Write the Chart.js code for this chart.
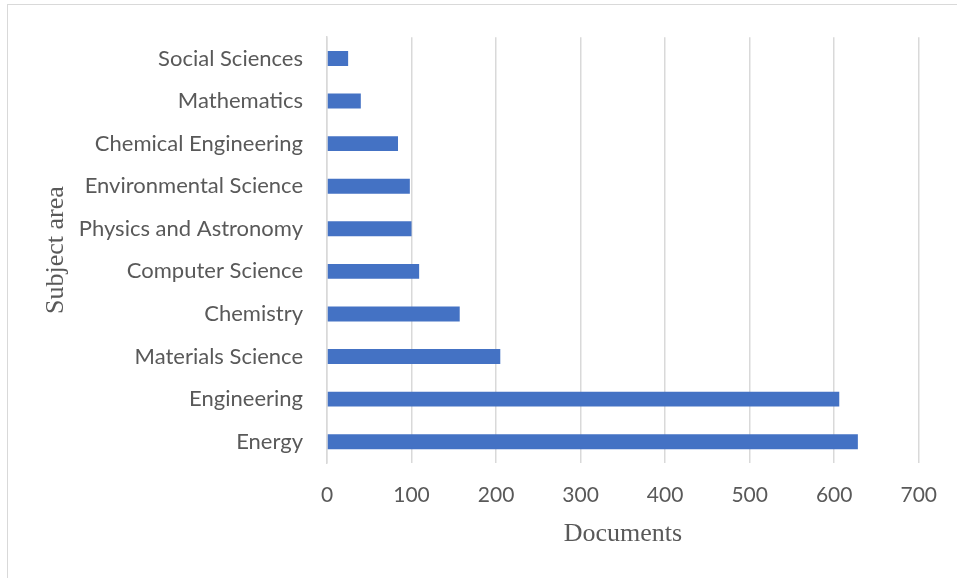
<!DOCTYPE html>
<html>
<head>
<meta charset="utf-8">
<script src="https://cdn.jsdelivr.net/npm/chart.js@4"></script>
<style>
  html, body { margin: 0; padding: 0; background: #fff; }
  #wrap { position: relative; width: 957px; height: 578px; }
  #frame { position: absolute; left: 7px; top: 4px; width: 960px; height: 600px;
           border-top: 1px solid #d9d9d9; border-left: 1px solid #d9d9d9; box-sizing: border-box; }
  canvas { position: absolute; left: 0; top: 0; }
</style>
</head>
<body>
<div id="wrap">
  <div id="frame"></div>
  <canvas id="c" width="957" height="578"></canvas>
</div>
<script>
const categories = ["Social Sciences", "Mathematics", "Chemical Engineering", "Environmental Science",
  "Physics and Astronomy", "Computer Science", "Chemistry", "Materials Science", "Engineering", "Energy"];
const documents = [25, 40, 84, 98, 100, 109, 157, 205, 606, 628];
const xTicks = [0, 100, 200, 300, 400, 500, 600, 700];
const xTitle = "Documents";
const yTitle = "Subject area";

const textColor = "#595959";
new Chart(document.getElementById("c"), {
  type: "bar",
  data: {
    labels: categories,
    datasets: [{
      data: documents,
      backgroundColor: "#4472C4",
      borderWidth: 0,
      barPercentage: 0.35,
      categoryPercentage: 1.0
    }]
  },
  options: {
    indexAxis: "y",
    responsive: false,
    animation: false,
    events: [],
    layout: { padding: { left: 0, top: 33, right: 37, bottom: 0 } },
    plugins: { legend: { display: false }, tooltip: { enabled: false } },
    scales: {
      x: {
        min: xTicks[0],
        max: xTicks[xTicks.length - 1],
        afterBuildTicks: (s) => { s.ticks = xTicks.map(v => ({ value: v })); },
        afterFit: (s) => { s.height = 578 - 463; },
        grid: { color: "#d9d9d9", lineWidth: 1.5, drawTicks: false },
        border: { display: false },
        ticks: { color: textColor, font: { family: "Lato", size: 21 }, padding: 20 },
        title: { display: true, text: xTitle, color: textColor,
                 font: { family: "Liberation Serif", size: 26 }, padding: { top: 0, bottom: 28 } }
      },
      y: {
        afterFit: (s) => { s.width = 327; },
        grid: { display: false, drawTicks: false },
        border: { display: true, color: "#d9d9d9", width: 1.5 },
        ticks: { color: textColor, font: { family: "Lato", size: 22 }, padding: 24 },
        title: { display: true, text: yTitle, color: textColor,
                 font: { family: "Liberation Serif", size: 26 }, padding: { top: 41, bottom: 0 } }
      }
    }
  }
});
</script>
</body>
</html>
